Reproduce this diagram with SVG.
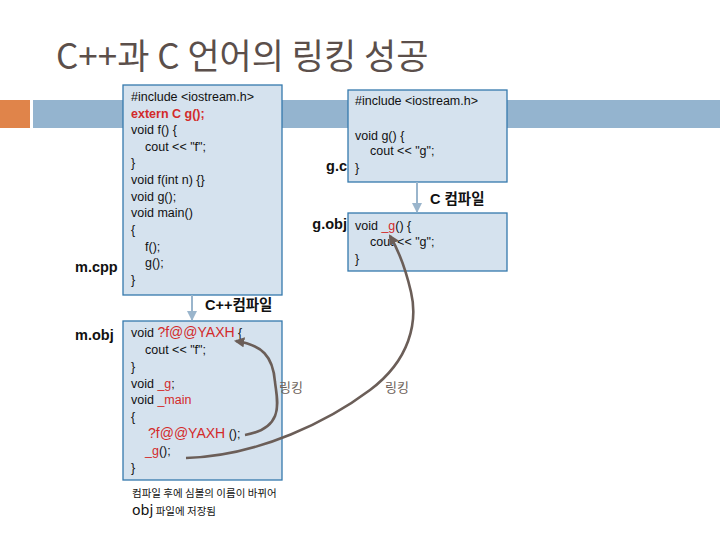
<svg xmlns="http://www.w3.org/2000/svg" width="720" height="540" viewBox="0 0 720 540">
<defs>
<style>
.box{fill:#d5e2ee;stroke:#3579ad;stroke-width:1.3}
.code{font-family:"Liberation Sans","Noto Sans",sans-serif;font-size:12.5px;fill:#111}
.red{fill:#d32a2a}
.lbl{font-family:"Liberation Sans","Noto Sans CJK KR",sans-serif;font-size:14.5px;font-weight:bold;fill:#111}
.kr{font-family:"Noto Sans CJK KR",sans-serif}
.conv{fill:none;stroke:#9ab5cc;stroke-width:2}
.link{fill:none;stroke:#6b5e58;stroke-width:2.6}
.lk{font-family:"Noto Sans CJK KR",sans-serif;font-size:13px;fill:#6b5e58}
</style>
<marker id="ab" viewBox="0 0 10 10" refX="9" refY="5" markerWidth="5" markerHeight="5" orient="auto"><path d="M0,0 L10,5 L0,10 z" fill="#9ab5cc"/></marker>
<marker id="al" viewBox="0 0 10 10" refX="8" refY="5" markerWidth="4" markerHeight="4" orient="auto"><path d="M0,0 L10,5 L0,10 z" fill="#6b5e58"/></marker>
</defs>
<rect x="0" y="100" width="30" height="28" fill="#e0844a"/>
<rect x="33" y="100" width="687" height="28" fill="#94b4cf"/>
<text x="56" y="69" font-family="'Noto Sans CJK KR',sans-serif" font-size="35" fill="#5b4f4b">C++과 C 언어의 링킹 성공</text>

<g id="mcpp">
<text class="lbl" x="75" y="272">m.cpp</text>
<rect class="box" x="123" y="85" width="159" height="210"/>
<text class="code" x="131" y="101">#include &lt;iostream.h&gt;</text>
<text class="code red" x="131" y="117.5" font-weight="bold">extern C g();</text>
<text class="code" x="131" y="134">void f() {</text>
<text class="code" x="145" y="151">cout &lt;&lt; "f";</text>
<text class="code" x="131" y="167">}</text>
<text class="code" x="131" y="184">void f(int n) {}</text>
<text class="code" x="131" y="201">void g();</text>
<text class="code" x="131" y="217">void main()</text>
<text class="code" x="131" y="234">{</text>
<text class="code" x="145" y="251">f();</text>
<text class="code" x="145" y="267">g();</text>
<text class="code" x="131" y="284">}</text>
</g>

<g id="gc">
<text class="lbl" x="347" y="171" text-anchor="end">g.c</text>
<rect class="box" x="348" y="90" width="159" height="92"/>
<text class="code" x="355" y="105">#include &lt;iostream.h&gt;</text>
<text class="code" x="355" y="140">void g() {</text>
<text class="code" x="370" y="155">cout &lt;&lt; "g";</text>
<text class="code" x="355" y="172">}</text>
</g>

<g id="gobj">
<text class="lbl" x="347" y="229" text-anchor="end">g.obj</text>
<rect class="box" x="348" y="213" width="159" height="58"/>
<text class="code" x="355" y="230">void <tspan class="red">_g</tspan>() {</text>
<text class="code" x="370" y="246">cout &lt;&lt; "g";</text>
<text class="code" x="355" y="263">}</text>
</g>

<g id="mobj">
<text class="lbl" x="75" y="340">m.obj</text>
<rect class="box" x="123" y="321" width="159" height="159"/>
<text class="code" x="131" y="337">void <tspan class="red" font-size="14">?f@@YAXH</tspan> {</text>
<text class="code" x="145" y="354">cout &lt;&lt; "f";</text>
<text class="code" x="131" y="371">}</text>
<text class="code" x="131" y="388">void <tspan class="red">_g</tspan>;</text>
<text class="code" x="131" y="404">void <tspan class="red">_main</tspan></text>
<text class="code" x="131" y="421">{</text>
<text class="code" x="148" y="438"><tspan class="red" font-size="14">?f@@YAXH</tspan> ();</text>
<text class="code" x="145" y="455"><tspan class="red">_g</tspan>();</text>
<text class="code" x="131" y="472">}</text>
</g>

<g id="connectors">
<line class="conv" x1="192" y1="295" x2="192" y2="320" marker-end="url(#ab)"/>
<line class="conv" x1="417" y1="182" x2="417" y2="212" marker-end="url(#ab)"/>
<path class="link" d="M245,435 C286,428 277,400 275,382 C273,356 262,345 236,341" marker-end="url(#al)"/>
<path class="link" d="M186,458 C260,456 330,420 370,390 C410,360 418,322 411,292 C404,262 396,246 390,236" marker-end="url(#al)"/>
</g>

<g id="labels">
<text class="lbl" x="430" y="204">C <tspan class="kr">컴파일</tspan></text>
<text class="lbl" x="205" y="310">C++<tspan class="kr">컴파일</tspan></text>
<text class="lk" x="279" y="392">링킹</text>
<text class="lk" x="385" y="392">링킹</text>
<text x="132" y="497" font-family="'Noto Sans CJK KR',sans-serif" font-size="10.5" fill="#111">컴파일 후에 심볼의 이름이 바뀌어</text>
<text x="132" y="515" font-family="'Noto Sans CJK KR',sans-serif" font-size="10.5" fill="#111"><tspan font-family="'DejaVu Sans',sans-serif" font-size="14">obj</tspan> 파일에 저장됨</text>
</g>
</svg>
